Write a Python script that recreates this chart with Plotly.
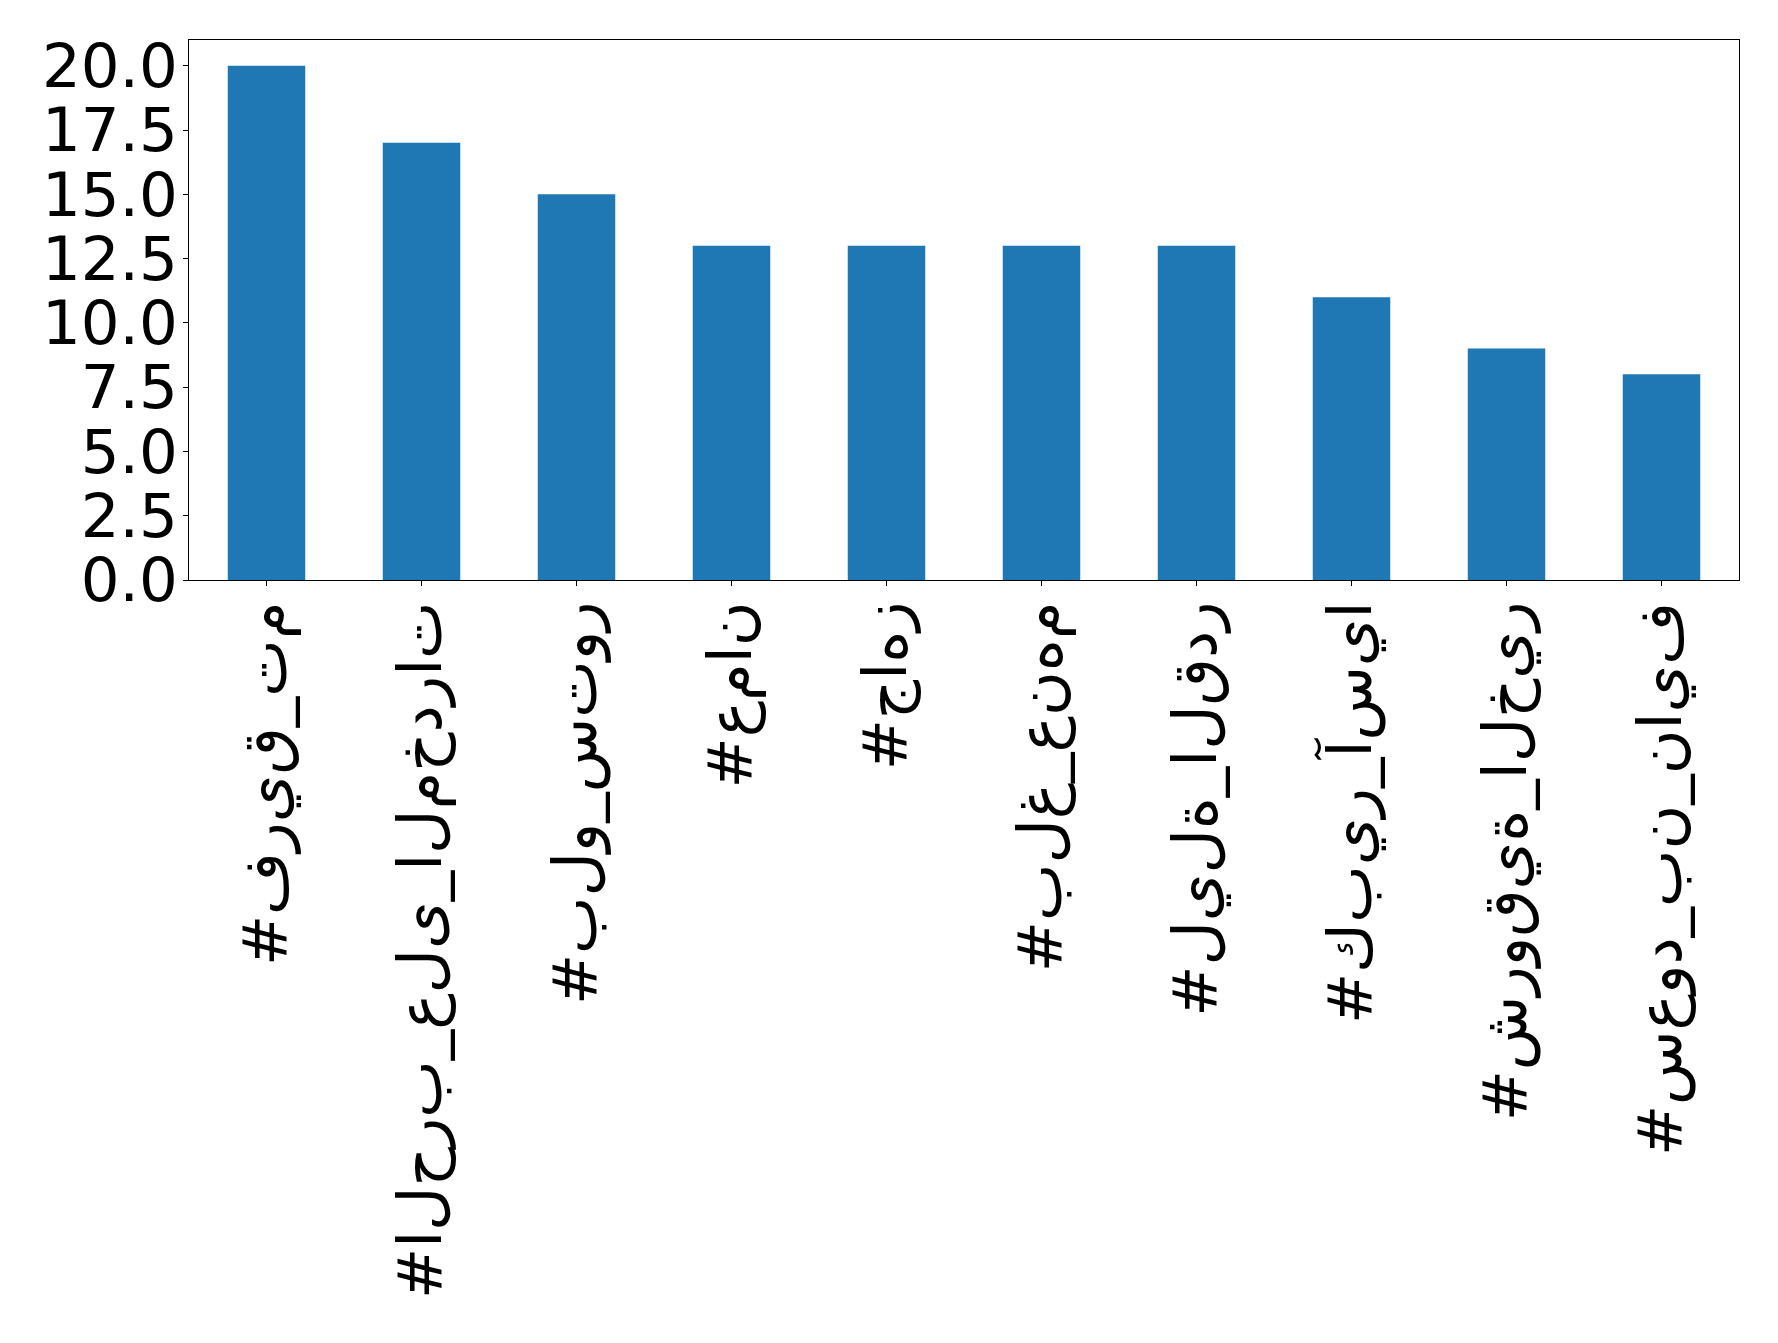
import plotly.graph_objects as go

# Hashtags (logical order) and their counts
hashtags = [
    "#فريق_تم",
    "#الحرب_على_المخدرات",
    "#بلو_ستور",
    "#عمان",
    "#جاهز",
    "#بلغ_عنهم",
    "#ليلة_القدر",
    "#كبير_آسيا",
    "#شروقية_الخير",
    "#سعود_بن_نايف",
]
counts = [20, 17, 15, 13, 13, 13, 13, 11, 9, 8]
y_ticks = [0, 2.5, 5, 7.5, 10, 12.5, 15, 17.5, 20]
y_tick_labels = ["0.0", "2.5", "5.0", "7.5", "10.0", "12.5", "15.0", "17.5", "20.0"]

# isolated presentation forms, to mimic the unshaped glyphs of the original
ISOLATED = {
    "ا": "\uFE8D", "آ": "\uFE81", "ب": "\uFE8F", "ت": "\uFE95", "ة": "\uFE93",
    "ج": "\uFE9D", "ح": "\uFEA1", "خ": "\uFEA5", "د": "\uFEA9", "ر": "\uFEAD",
    "ز": "\uFEAF", "س": "\uFEB1", "ش": "\uFEB5", "ع": "\uFEC9", "غ": "\uFECD",
    "ف": "\uFED1", "ق": "\uFED5", "ك": "\uFED9", "ل": "\uFEDD", "م": "\uFEE1",
    "ن": "\uFEE5", "ه": "\uFEE9", "و": "\uFEED", "ي": "\uFEF1", "ى": "\uFEEF",
}


def unshaped_ltr(s):
    return "\u202d" + "".join(ISOLATED.get(c, c) for c in s) + "\u202c"


labels = [unshaped_ltr(h) for h in hashtags]
xs = list(range(len(hashtags)))

fig = go.Figure(
    go.Bar(
        x=xs,
        y=counts,
        width=0.5,
        marker=dict(color="#1f77b4", line=dict(width=0)),
    )
)

axis_common = dict(
    showline=True,
    linecolor="black",
    linewidth=1.1,
    mirror=True,
    showgrid=False,
    zeroline=False,
    ticks="outside",
    ticklen=5,
    tickwidth=1.1,
    tickcolor="black",
    tickfont=dict(family="DejaVu Sans", size=61, color="black"),
)

fig.update_xaxes(
    range=[-0.5, 9.5],
    tickmode="array",
    tickvals=xs,
    ticktext=labels,
    tickangle=-90,
    ticklabelstandoff=-9,
    **axis_common,
)
fig.update_yaxes(
    range=[0, 21],
    tickmode="array",
    tickvals=y_ticks,
    ticktext=y_tick_labels,
    ticklabelstandoff=-7,
    **axis_common,
)

fig.update_layout(
    width=1778,
    height=1343,
    margin=dict(l=181, r=47, t=32, b=771, pad=0),
    paper_bgcolor="white",
    plot_bgcolor="white",
    showlegend=False,
    font=dict(family="DejaVu Sans"),
)

fig.write_html("out.html")
